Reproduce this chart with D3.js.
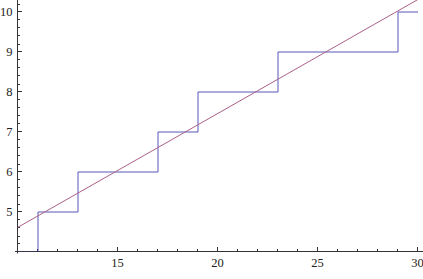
<!DOCTYPE html>
<html>
<head>
<meta charset="utf-8">
<script src="https://cdn.jsdelivr.net/npm/d3@7"></script>
<style>
  body { margin: 0; background: #fff; }
  svg { display: block; }
  text { font-family: "Liberation Serif", "Times New Roman", serif; font-size: 12.5px; fill: #222; }
</style>
</head>
<body>
<div id="chart"></div>
<script>
// Data
// step series: prime counting, value holds from each x until the next one
let stepX = [10, 11, 13, 17, 19, 23, 29, 30];
let stepY = [4, 5, 6, 7, 8, 9, 10, 10];

// straight fit line, two end points
let lineX = [10, 30.3];
let lineY = [4.6, 10.38];

let xTicks = [15, 20, 25, 30];
let yTicks = [5, 6, 7, 8, 9, 10];

//////////////////// Setup ////////////////////
let width = 423;
let height = 279;

let x = d3.scaleLinear()
  .domain([10, 30.275])
  .range([17.5, 423]);

let y = d3.scaleLinear()
  .domain([4, 10.2875])
  .range([251.5, 0]);

let svg = d3.select("#chart").append("svg")
  .attr("width", width)
  .attr("height", height);

svg.append("defs").append("clipPath")
  .attr("id", "plot")
  .append("rect")
  .attr("x", x.range()[0]).attr("y", 0)
  .attr("width", width - x.range()[0]).attr("height", y.range()[0]);

//////////////////// Axes ////////////////////
let axisColor = "#333";

// minor ticks every 1 on x, every 0.2 on y
let xMinor = d3.range(11, 31).filter(d => d % 5 !== 0);
let yMinor = d3.range(4.2, 10.29, 0.2).filter(d => Math.abs(d - Math.round(d)) > 0.01);

let xAxisG = svg.append("g");
xAxisG.append("line")
  .attr("x1", 15).attr("x2", width)
  .attr("y1", y(4)).attr("y2", y(4))
  .attr("stroke", axisColor);
xAxisG.selectAll(".xmaj").data(xTicks).join("line")
  .attr("x1", d => x(d)).attr("x2", d => x(d))
  .attr("y1", y(4)).attr("y2", y(4) - 4.5)
  .attr("stroke", axisColor);
xAxisG.selectAll(".xmin").data(xMinor).join("line")
  .attr("x1", d => x(d)).attr("x2", d => x(d))
  .attr("y1", y(4)).attr("y2", y(4) - 2.5)
  .attr("stroke", axisColor);
xAxisG.selectAll("text").data(xTicks).join("text")
  .attr("x", d => x(d))
  .attr("y", 267)
  .attr("text-anchor", "middle")
  .text(d => d);

let yAxisG = svg.append("g");
yAxisG.append("line")
  .attr("x1", x(10)).attr("x2", x(10))
  .attr("y1", 0).attr("y2", y(4) + 2)
  .attr("stroke", axisColor);
yAxisG.selectAll(".ymaj").data(yTicks).join("line")
  .attr("x1", x(10)).attr("x2", x(10) + 4.5)
  .attr("y1", d => y(d)).attr("y2", d => y(d))
  .attr("stroke", axisColor);
yAxisG.selectAll(".ymin").data(yMinor).join("line")
  .attr("x1", x(10)).attr("x2", x(10) + 2.5)
  .attr("y1", d => Math.round(y(d)) + 0.5).attr("y2", d => Math.round(y(d)) + 0.5)
  .attr("stroke", axisColor);
yAxisG.selectAll("text").data(yTicks).join("text")
  .attr("x", 12.5)
  .attr("y", d => y(d) + 4)
  .attr("text-anchor", "end")
  .text(d => d);

//////////////////// Series ////////////////////
let plot = svg.append("g").attr("clip-path", "url(#plot)");

let stepLine = d3.line()
  .x(d => x(d[0]))
  .y(d => y(d[1]))
  .curve(d3.curveStepAfter);

// half pixel shift so the thin step line is soft like the reference
plot.append("path")
  .datum(d3.zip(stepX, stepY))
  .attr("d", stepLine)
  .attr("transform", "translate(0.5,0.5)")
  .attr("fill", "none")
  .attr("stroke", "#4646b0")
  .attr("stroke-width", 0.9);

plot.append("path")
  .datum(d3.zip(lineX, lineY))
  .attr("d", d3.line().x(d => x(d[0])).y(d => y(d[1])))
  .attr("fill", "none")
  .attr("stroke", "#aa6088")
  .attr("stroke-width", 1);
</script>
</body>
</html>
